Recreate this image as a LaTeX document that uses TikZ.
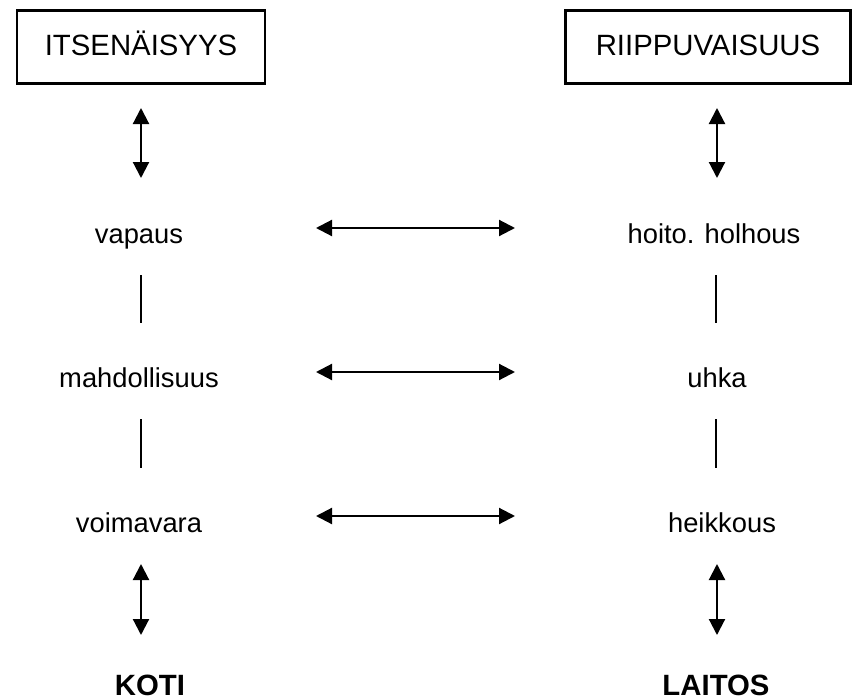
\documentclass[tikz,border=0pt]{standalone}
\usepackage{fontspec}
\setmainfont{Liberation Sans}
\usetikzlibrary{arrows.meta}

\begin{document}
\begin{tikzpicture}[x=0.75pt, y=-0.75pt,
    box/.style={rectangle, draw, line width=2.2pt, text height=12pt, text depth=0pt, font=\fontsize{22}{26}\selectfont},
    word/.style={anchor=base, inner sep=0pt, font=\fontsize{20.5}{24}\selectfont},
    place/.style={anchor=base, inner sep=0pt, font=\bfseries\fontsize{22}{26}\selectfont},
    twoway/.style={draw, line width=1.6pt, {Triangle[length=12pt,width=12pt]}-{Triangle[length=12pt,width=12pt]}},
    link/.style={draw, line width=1.1pt}]
    \useasboundingbox (0,0) rectangle (854,700);
    % Place nodes
    \node [box, minimum width=186pt, minimum height=55pt] (ITS) at (141,47) {ITSENÄISYYS};
    \node [box, minimum width=214pt, minimum height=55pt] (RII) at (708,47) {RIIPPUVAISUUS};
    \node [word] (vapaus) at (139,243) {vapaus};
    \node [word] (mahd) at (139,387) {mahdollisuus};
    \node [word] (voima) at (139,532) {voimavara};
    \node [word] (hoito) at (714,243) {hoito. holhous};
    \node [word] (uhka) at (717,387) {uhka};
    \node [word] (heikko) at (722,532) {heikkous};
    \node [place] (koti) at (150,695) {KOTI};
    \node [place] (laitos) at (716,695) {LAITOS};
    % Arrow ends
    \coordinate (Ta) at (141,108);
    \coordinate (Tb) at (141,178);
    \coordinate (Tc) at (717,108);
    \coordinate (Td) at (717,178);
    \coordinate (H1a) at (316,228);
    \coordinate (H1b) at (515,228);
    \coordinate (H2a) at (316,372);
    \coordinate (H2b) at (515,372);
    \coordinate (H3a) at (316,516);
    \coordinate (H3b) at (515,516);
    \coordinate (V1a) at (141,275);
    \coordinate (V1b) at (141,323);
    \coordinate (V2a) at (141,419);
    \coordinate (V2b) at (141,468);
    \coordinate (V3a) at (716,275);
    \coordinate (V3b) at (716,323);
    \coordinate (V4a) at (716,419);
    \coordinate (V4b) at (716,468);
    \coordinate (Ba) at (141,564);
    \coordinate (Bb) at (141,635);
    \coordinate (Bc) at (717,564);
    \coordinate (Bd) at (717,635);
    % Connectors
    \path [twoway] (Ta) -- (Tb);
    \path [twoway] (Tc) -- (Td);
    \path [twoway] (H1a) -- (H1b);
    \path [twoway] (H2a) -- (H2b);
    \path [twoway] (H3a) -- (H3b);
    \path [link] (V1a) -- (V1b);
    \path [link] (V2a) -- (V2b);
    \path [link] (V3a) -- (V3b);
    \path [link] (V4a) -- (V4b);
    \path [twoway] (Ba) -- (Bb);
    \path [twoway] (Bc) -- (Bd);
\end{tikzpicture}
\end{document}
